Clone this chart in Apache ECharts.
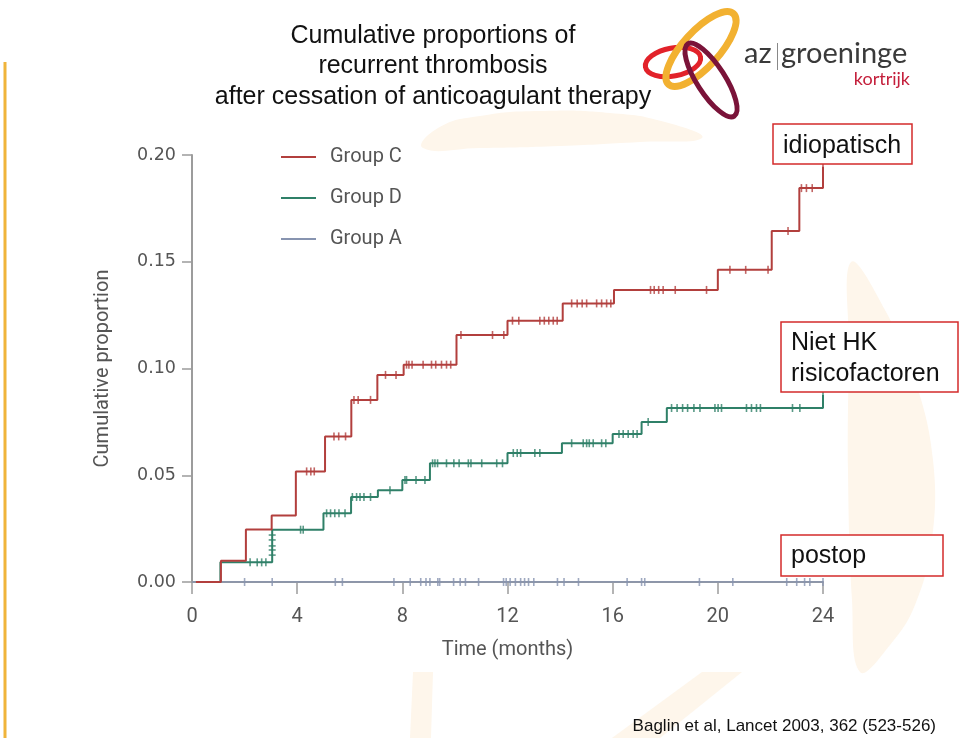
<!DOCTYPE html>
<html><head><meta charset="utf-8">
<script src="https://cdn.jsdelivr.net/npm/echarts@6/dist/echarts.min.js"></script>
<style>html,body{margin:0;padding:0;background:#fff}#c{width:959px;height:738px}</style>
</head><body><div id="c"></div>
<script>
// ---------- data ----------
const titleLines = ['Cumulative proportions of', 'recurrent thrombosis', 'after cessation of anticoagulant therapy'];
const seriesNames = ['Group C', 'Group D', 'Group A'];
const xTickValues = [0, 4, 8, 12, 16, 20, 24];
const yTickValues = [0, 0.05, 0.10, 0.15, 0.20];

// Group C (red) step function: value holds from time[i] until time[i+1]
const groupCTimes  = [0.15, 1.1, 2.05, 3.03, 3.95, 5.06, 6.06, 7.05, 8.05, 10.06, 12.0, 14.1, 16.05, 20.0, 22.05, 23.1, 24.0];
const groupCValues = [0, 0.0100, 0.0246, 0.0312, 0.0518, 0.0682, 0.0853, 0.0970, 0.1018, 0.1157, 0.1224, 0.1305, 0.1368, 0.1462, 0.1644, 0.1845, 0.1945];
const groupCCensor = [4.36, 4.52, 4.65, 5.40, 5.58, 5.84, 6.16, 6.32, 6.79, 7.36, 7.76, 8.16, 8.25, 8.37, 8.79, 9.11, 9.27, 9.49, 9.68, 9.84,
  10.23, 11.43, 11.86, 12.19, 12.43, 13.23, 13.40, 13.57, 13.74, 13.89, 14.44, 14.65, 14.84, 15.01, 15.39, 15.58, 15.77, 15.93,
  17.44, 17.58, 17.75, 17.92, 18.38, 19.57, 20.46, 21.06, 21.91, 22.67, 23.18, 23.37, 23.59, 24.0];

// Group D (green)
const groupDTimes  = [0.15, 1.08, 3.05, 5.0, 6.05, 7.07, 8.0, 9.05, 12.0, 14.07, 16.0, 17.1, 18.06, 24.0];
const groupDValues = [0, 0.0092, 0.0245, 0.0322, 0.0398, 0.0430, 0.0478, 0.0556, 0.0604, 0.0650, 0.0693, 0.0749, 0.0815, 0.0876];
const groupDCensor = [2.21, 2.48, 2.65, 2.81, 4.13, 4.23, 5.12, 5.27, 5.43, 5.59, 5.82, 6.10, 6.26, 6.39, 6.54, 6.79, 7.53,
  8.10, 8.16, 8.52, 8.86, 9.15, 9.24, 9.34, 9.68, 9.96, 10.16, 10.51, 10.61, 11.02, 11.59, 11.81, 12.22, 12.37, 12.50, 13.04, 13.23,
  14.44, 14.88, 15.01, 15.11, 15.26, 15.58, 15.74, 16.24, 16.40, 16.59, 16.78, 16.93, 17.35, 18.24, 18.45, 18.66, 18.85, 19.09, 19.32,
  19.89, 20.01, 20.14, 21.09, 21.28, 21.47, 21.62, 22.84, 23.12, 24.0];
const groupDJumpCensorTime = 3.05;
const groupDJumpCensorValues = [0.0126, 0.0150, 0.0169, 0.0197, 0.0220];

// Group A (blue) stays at zero
const groupATimes  = [0, 24];
const groupAValues = [0, 0];
const groupACensor = [2.0, 3.05, 5.45, 5.72, 7.68, 8.3, 8.7, 8.9, 9.05, 9.35, 9.42, 9.95, 10.2, 10.4, 10.9, 11.85, 11.95, 12.1, 12.3,
  12.5, 12.65, 12.8, 13.0, 13.9, 14.15, 14.7, 16.55, 17.1, 17.22, 19.3, 20.57, 22.62, 23.0, 23.3, 23.5, 24.0];

// ---------- helpers ----------
function steps(times, values) { return times.map((t, i) => [t, values[i]]); }
function levelAt(times, values, t) {
  let v = values[0];
  for (let i = 0; i < times.length; i++) if (times[i] <= t + 1e-9) v = values[i];
  return v;
}

const RED = '#b23f3d', GREEN = '#2f8068', BLUE = '#8794b0', AXIS = '#9c9c9c', LABEL = '#555';
const NARROW = "Roboto,'Liberation Sans',sans-serif";
const ARIAL = "'Liberation Sans',Arial,sans-serif";
const PEACH = '#fef6eb';

function censorSeries(times, values, censor, color, z) {
  return { type: 'scatter', silent: true, z: z, symbol: 'rect', symbolSize: [1.6, 8],
    itemStyle: { color: color }, data: censor.map(t => [t, levelAt(times, values, t)]) };
}

const chart = echarts.init(document.getElementById('c'), null, { renderer: 'canvas' });

const graphics = [];
// watermark shapes
graphics.push({ type: 'polygon', z: -10, shape: { smooth: 0.5, points: [[423,148],[438,128],[480,116],[540,111],[610,113],[665,122],[702,138],[640,142],[560,146],[480,148]] }, style: { fill: PEACH } });
graphics.push({ type: 'polygon', z: -10, shape: { smooth: 0.4, points: [[851,262],[885,310],[915,380],[933,460],[932,540],[915,605],[890,645],[860,672],[852,600],[848,470],[849,350]] }, style: { fill: PEACH } });
graphics.push({ type: 'polygon', z: -10, shape: { points: [[413,672],[433,672],[431,738],[410,738]] }, style: { fill: PEACH } });
graphics.push({ type: 'polygon', z: -10, shape: { points: [[702,672],[742,672],[660,738],[612,738]] }, style: { fill: PEACH } });
// left orange rule
graphics.push({ type: 'line', z: 10, shape: { x1: 5, y1: 62, x2: 5, y2: 738 }, style: { stroke: '#f0b43a', lineWidth: 3 } });
// title
titleLines.forEach((s, i) => graphics.push({ type: 'text', z: 100, x: 433, y: 36 + i * 30.5,
  style: { text: s, fill: '#111', font: '25px ' + ARIAL, textAlign: 'center', textVerticalAlign: 'middle' } }));
// logo
graphics.push({ type: 'ellipse', z: 100, x: 673, y: 62, rotation: 0.18, shape: { cx: 0, cy: 0, rx: 28, ry: 14 }, style: { fill: null, stroke: '#e2222a', lineWidth: 5 } });
graphics.push({ type: 'ellipse', z: 101, x: 701, y: 49, rotation: 0.83, shape: { cx: 0, cy: 0, rx: 48, ry: 18 }, style: { fill: null, stroke: '#f2b131', lineWidth: 7 } });
graphics.push({ type: 'ellipse', z: 102, x: 711, y: 80, rotation: -1.0, shape: { cx: 0, cy: 0, rx: 43, ry: 14 }, style: { fill: null, stroke: '#7a1339', lineWidth: 5 } });
graphics.push({ type: 'text', z: 100, x: 744, y: 54, style: { text: 'az', fill: '#3a3a3a', font: '29px Lato,"Open Sans",sans-serif', textVerticalAlign: 'middle' } });
graphics.push({ type: 'line', z: 100, shape: { x1: 777.5, y1: 43, x2: 777.5, y2: 70 }, style: { stroke: '#888', lineWidth: 1 } });
graphics.push({ type: 'text', z: 100, x: 781, y: 54, style: { text: 'groeninge', fill: '#3a3a3a', font: '29px Lato,"Open Sans",sans-serif', textVerticalAlign: 'middle' } });
graphics.push({ type: 'text', z: 100, x: 910, y: 79, style: { text: 'kortrijk', fill: '#c41f3b', font: '18px Lato,"Open Sans",sans-serif', textAlign: 'right', textVerticalAlign: 'middle' } });
// annotation boxes
function box(x1, y1, x2, y2, lines, ys) {
  graphics.push({ type: 'rect', z: 100, shape: { x: x1, y: y1, width: x2 - x1, height: y2 - y1 }, style: { fill: '#fff', stroke: '#d42b2b', lineWidth: 1.5 } });
  lines.forEach((s, i) => graphics.push({ type: 'text', z: 101, x: x1 + 10, y: ys[i],
    style: { text: s, fill: '#111', font: '25px ' + ARIAL, textVerticalAlign: 'middle' } }));
}
box(773, 124, 912, 164, ['idiopatisch'], [146]);
box(781, 322, 958, 392, ['Niet HK', 'risicofactoren'], [343, 374]);
box(781, 535, 943, 576, ['postop'], [556]);
// citation
graphics.push({ type: 'text', z: 100, x: 936, y: 726, style: { text: 'Baglin et al, Lancet 2003, 362 (523-526)', fill: '#111', font: '17px ' + ARIAL, textAlign: 'right', textVerticalAlign: 'middle' } });

const option = {
  animation: false,
  backgroundColor: '#fff',
  grid: { left: 192, right: 136, top: 155, bottom: 156, containLabel: false },
  legend: {
    orient: 'vertical', left: 281, top: 147, padding: 0, itemWidth: 35, itemHeight: 2, itemGap: 21, icon: 'rect',
    selectedMode: false, data: seriesNames,
    textStyle: { fontFamily: NARROW, fontSize: 20, color: LABEL, padding: [0, 0, 0, 9], lineHeight: 20 }
  },
  xAxis: {
    type: 'value', min: 0, max: 24, interval: 4,
    name: 'Time (months)', nameLocation: 'middle', nameGap: 58,
    nameTextStyle: { fontFamily: NARROW, fontSize: 20, color: LABEL },
    axisLine: { onZero: false, lineStyle: { color: AXIS, width: 2 } },
    axisTick: { show: true, length: 12, lineStyle: { color: AXIS, width: 1.5 } },
    axisLabel: { margin: 25, fontFamily: NARROW, fontSize: 20, color: LABEL,
      formatter: v => (xTickValues.indexOf(v) >= 0 ? String(v) : '') },
    splitLine: { show: false }
  },
  yAxis: {
    type: 'value', min: 0, max: 0.2, interval: 0.05,
    name: 'Cumulative proportion', nameLocation: 'middle', nameGap: 79, nameRotate: 90,
    nameTextStyle: { fontFamily: NARROW, fontSize: 20, color: LABEL },
    axisLine: { show: true, lineStyle: { color: AXIS, width: 2 } },
    axisTick: { show: true, length: 10, lineStyle: { color: AXIS, width: 1.5 } },
    axisLabel: { margin: 16, fontFamily: "'DejaVu Sans',sans-serif", fontSize: 17.5, color: LABEL,
      formatter: v => (yTickValues.some(t => Math.abs(t - v) < 1e-9) ? v.toFixed(2) : '') },
    splitLine: { show: false }
  },
  series: [
    { name: 'Group A', type: 'line', step: 'end', symbol: 'none', z: 3, color: BLUE,
      lineStyle: { color: BLUE, width: 1.6 }, data: steps(groupATimes, groupAValues) },
    censorSeries(groupATimes, groupAValues, groupACensor, BLUE, 3),
    { name: 'Group D', type: 'line', step: 'end', symbol: 'none', z: 4, color: GREEN,
      lineStyle: { color: GREEN, width: 2 }, data: steps(groupDTimes, groupDValues) },
    censorSeries(groupDTimes, groupDValues, groupDCensor, GREEN, 4),
    { type: 'scatter', silent: true, z: 4, symbol: 'rect', symbolSize: [7, 1.6], itemStyle: { color: GREEN },
      data: groupDJumpCensorValues.map(v => [groupDJumpCensorTime, v]) },
    { name: 'Group C', type: 'line', step: 'end', symbol: 'none', z: 5, color: RED,
      lineStyle: { color: RED, width: 2 }, data: steps(groupCTimes, groupCValues) },
    censorSeries(groupCTimes, groupCValues, groupCCensor, RED, 5)
  ],
  graphic: graphics
};
chart.setOption(option);
</script>
</body></html>
